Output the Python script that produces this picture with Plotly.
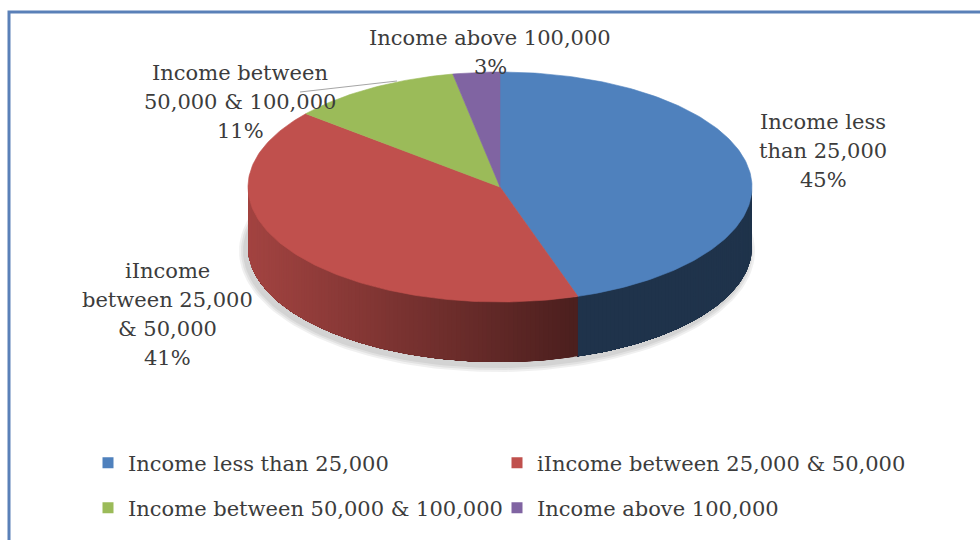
import numpy as np
import plotly.graph_objects as go

# Household income distribution
categories = ["Income less than 25,000", "iIncome between 25,000 & 50,000",
              "Income between 50,000 & 100,000", "Income above 100,000"]
shares = [45, 41, 11, 3]
label_lines = [["Income less", "than 25,000"],
               ["iIncome", "between 25,000", "& 50,000"],
               ["Income between", "50,000 & 100,000"],
               ["Income above 100,000"]]
colors = ["#4f81bd", "#c0504d", "#9bbb59", "#8064a2"]

# geometry of the tilted pie (pixel space, y grows downwards)
W, H = 980, 540
CX, CY, RX, RY, DEPTH = 500, 187, 252, 115, 60
FONT = "DejaVu Serif"
TXT = "#3c3c3c"


def rim(theta):
    t = np.radians(theta)
    return CX + RX * np.sin(t), CY - RY * np.cos(t)


def shade(hex_color, f):
    r, g, b = (int(hex_color[i:i + 2], 16) for i in (1, 3, 5))
    return "rgb(%d,%d,%d)" % (r * f, g * f, b * f)


def side_factor(theta):
    # light comes from the left: bright at 270 deg, darker towards the front-right
    return max(0.40, 0.5 - 0.35 * np.sin(np.radians(theta)))


fig = go.Figure()

# soft drop shadow under the disc
for k in range(3):
    t = np.linspace(0, 360, 181)
    rx, ry = RX + 2 + 2 * k, RY + 2 + 2 * k
    fig.add_trace(go.Scatter(
        x=CX - 3 + rx * np.sin(np.radians(t)),
        y=CY + DEPTH + 4 - ry * np.cos(np.radians(t)),
        fill="toself", mode="lines", line=dict(width=0),
        fillcolor="rgba(0,0,0,0.06)", hoverinfo="skip", showlegend=False))

total = sum(shares)
bounds = np.concatenate([[0], np.cumsum(shares) / total * 360])

# side wall (front half only, 90..270 deg); each strip runs to the slice end
# so the next one paints over it without seams
for i, c in enumerate(colors):
    a0, a1 = max(bounds[i], 90), min(bounds[i + 1], 270)
    if a1 <= a0:
        continue
    edges = np.linspace(a0, a1, int(np.ceil(a1 - a0)) + 1)
    for s0 in edges[:-1]:
        tt = np.linspace(s0, a1, max(3, int(a1 - s0) + 2))
        xs, ys = rim(tt)
        px = np.concatenate([xs, xs[::-1]])
        py = np.concatenate([ys, ys[::-1] + DEPTH])
        col = shade(c, side_factor(s0 + 0.5))
        fig.add_trace(go.Scatter(
            x=px, y=py, fill="toself", mode="lines",
            line=dict(width=0), fillcolor=col,
            hoverinfo="skip", showlegend=False))

# top surface slices
for i, c in enumerate(colors):
    tt = np.linspace(bounds[i], bounds[i + 1], max(4, int(bounds[i + 1] - bounds[i]) + 2))
    xs, ys = rim(tt)
    fig.add_trace(go.Scatter(
        x=np.concatenate([[CX], xs, [CX]]), y=np.concatenate([[CY], ys, [CY]]),
        fill="toself", mode="lines", line=dict(width=0.6, color=c), fillcolor=c,
        hoverinfo="skip", showlegend=False))

# slice labels
label_pos = [(823, 122), (167, 271), (240, 73), (490, 38)]
for lines, share, (lx, ly) in zip(label_lines, shares, label_pos):
    for j, txt in enumerate(lines + ["%d%%" % share]):
        fig.add_annotation(x=lx, y=ly + 29 * j, text=txt, showarrow=False,
                           xanchor="center", yanchor="middle",
                           font=dict(family=FONT, size=21, color=TXT))

# leader line for the green slice label
fig.add_shape(type="line", x0=300, y0=92, x1=397, y1=81,
              line=dict(color="#a6a6a6", width=1.2))

# legend entries (two rows, two columns)
for i, (name, c) in enumerate(zip(categories, colors)):
    fig.add_trace(go.Scatter(
        x=[None], y=[None], mode="markers", name=name,
        marker=dict(symbol="square", size=11, color=c),
        legend="legend" if i < 2 else "legend2"))

legend_style = dict(orientation="h", xanchor="left", yanchor="middle",
                    entrywidth=364, entrywidthmode="pixels",
                    bgcolor="rgba(0,0,0,0)",
                    font=dict(family=FONT, size=21, color=TXT))

# outer frame
fig.add_shape(type="rect", x0=9, y0=12, x1=W + 20, y1=H + 20,
              line=dict(color="#5a80b8", width=3))

fig.update_layout(
    width=W, height=H, margin=dict(l=0, r=0, t=0, b=0),
    paper_bgcolor="white", plot_bgcolor="white",
    xaxis=dict(range=[0, W], visible=False, fixedrange=True),
    yaxis=dict(range=[H, 0], visible=False, fixedrange=True),
    legend=dict(legend_style, x=88 / W, y=1 - 463 / H),
    legend2=dict(legend_style, x=88 / W, y=1 - 508 / H),
    hovermode=False,
)

fig.write_html("out.html")
